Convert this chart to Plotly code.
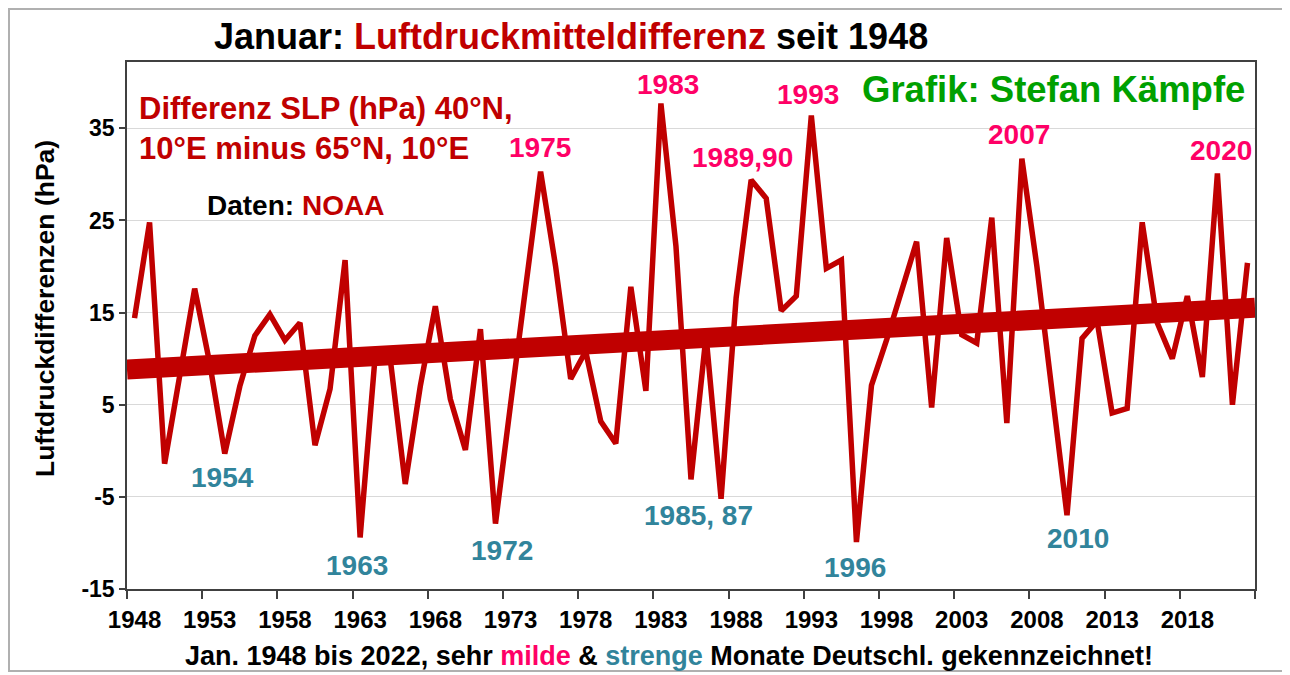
import numpy as np
import plotly.graph_objects as go

# ---- data ----
years = list(range(1948, 2023))
values = [14.4, 24.8, -1.4, 8.0, 17.6, 9.5, -0.3, 7.0, 12.5, 14.8,
          12.0, 13.9, 0.6, 6.7, 20.7, -9.4, 10.3, 10.0, -3.6, 7.0,
          15.7, 5.6, 0.1, 13.2, -7.9, 5.0, 17.5, 30.3, 20.0, 7.8,
          10.8, 3.2, 0.8, 17.8, 6.5, 37.7, 22.2, -3.1, 12.5, -5.2,
          16.6, 29.4, 27.4, 15.2, 16.8, 36.4, 19.8, 20.7, -9.9, 7.1,
          12.0, 17.2, 22.7, 4.7, 23.1, 12.6, 11.7, 25.3, 3.0, 31.7,
          20.0, 6.5, -7.0, 12.2, 14.1, 4.1, 4.6, 24.8, 13.9, 10.0,
          16.8, 8.0, 30.1, 5.0, 20.4]
tick_years = list(range(1948, 2019, 5))
tick_labels = [str(y) for y in tick_years]
y_ticks = [-15, -5, 5, 15, 25, 35]
y_tick_labels = ["-15", "-5", "5", "15", "25", "35"]

mild_labels = ["1975", "1983", "1989,90", "1993", "2007", "2020"]
mild_x = [1974.99, 1983.45, 1988.4, 1992.81, 2006.81, 2020.22]
mild_y = [32.9, 39.8, 31.8, 38.7, 34.3, 32.6]
severe_labels = ["1954", "1963", "1972", "1985, 87", "1996", "2010"]
severe_x = [1953.83, 1962.76, 1972.46, 1985.53, 1995.92, 2010.72]
severe_y = [-2.9, -12.4, -10.8, -7.0, -12.7, -9.5]

RED = "#C00000"
PINK = "#FF0066"
TEAL = "#31849B"
GREEN = "#00A000"
FONT = "Arial, Liberation Sans, sans-serif"

# linear trend computed from the data
coef = np.polyfit(years, values, 1)
trend_x = [years[0] - 0.5, years[-1] + 0.5]
trend_y = [float(np.polyval(coef, v)) for v in trend_x]

fig = go.Figure()
fig.add_trace(go.Scatter(x=trend_x, y=trend_y, mode="lines",
                         line=dict(color=RED, width=20), hoverinfo="skip",
                         showlegend=False))
fig.add_trace(go.Scatter(x=years, y=values, mode="lines",
                         line=dict(color=RED, width=5.5), showlegend=False))

# page body has an 8px margin; the figure is laid out in page pixels
OFF = 8
W, H = 1290 - OFF, 675 - OFF
PL, PR, PT, PB = 127, 1255, 62, 589          # plot box in page pixels
ML, MT = PL - OFF, PT - OFF
MR, MB = W - (PR - OFF), H - (PB - OFF)
PW, PH = W - ML - MR, H - MT - MB


def px(x):
    return (x - OFF - ML) / PW


def py(y):
    return (H - MB - (y - OFF)) / PH


ann = []
for t, x, y in zip(mild_labels, mild_x, mild_y):
    ann.append(dict(x=x, y=y, xref="x", yref="y", text=t, showarrow=False,
                    font=dict(family=FONT, size=28, color=PINK, weight="bold")))
for t, x, y in zip(severe_labels, severe_x, severe_y):
    ann.append(dict(x=x, y=y, xref="x", yref="y", text=t, showarrow=False,
                    font=dict(family=FONT, size=28, color=TEAL, weight="bold")))

ann += [
    dict(x=px(137), y=py(108), xref="paper", yref="paper", xanchor="left",
         yanchor="middle", showarrow=False, text="Differenz SLP (hPa) 40°N,",
         font=dict(family=FONT, size=31, color=RED, weight="bold")),
    dict(x=px(137), y=py(148), xref="paper", yref="paper", xanchor="left",
         yanchor="middle", showarrow=False, text="10°E minus 65°N, 10°E",
         font=dict(family=FONT, size=31, color=RED, weight="bold")),
    dict(x=px(205), y=py(206), xref="paper", yref="paper", xanchor="left",
         yanchor="middle", showarrow=False,
         text="Daten: <span style='color:%s'>NOAA</span>" % RED,
         font=dict(family=FONT, size=28, color="black", weight="bold")),
    dict(x=px(860), y=py(89), xref="paper", yref="paper", xanchor="left",
         yanchor="middle", showarrow=False, text="Grafik: Stefan Kämpfe",
         font=dict(family=FONT, size=36.5, color=GREEN, weight="bold")),
    dict(x=px(571), y=py(36), xref="paper", yref="paper", xanchor="center",
         yanchor="middle", showarrow=False,
         text="Januar: <span style='color:%s'>Luftdruckmitteldifferenz</span> seit 1948" % RED,
         font=dict(family=FONT, size=36, color="black", weight="bold")),
    dict(x=px(669), y=py(656), xref="paper", yref="paper", xanchor="center",
         yanchor="middle", showarrow=False,
         text=("Jan. 1948 bis 2022, sehr <span style='color:%s'>milde</span> &amp; "
               "<span style='color:%s'>strenge</span> Monate Deutschl. gekennzeichnet!") % (PINK, TEAL),
         font=dict(family=FONT, size=27, color="black", weight="bold")),
    dict(x=px(45), y=py(309), xref="paper", yref="paper", xanchor="center",
         yanchor="middle", showarrow=False, textangle=-90,
         text="Luftdruckdifferenzen (hPa)",
         font=dict(family=FONT, size=26.5, color="black", weight="bold")),
]

fig.update_layout(
    width=W, height=H,
    margin=dict(l=ML, r=MR, t=MT, b=MB),
    paper_bgcolor="white", plot_bgcolor="white",
    annotations=ann,
    shapes=[dict(type="rect", xref="paper", yref="paper",
                 x0=px(9), x1=px(1283), y0=py(671), y1=py(9),
                 line=dict(color="#B0B0B0", width=2), layer="below")],
    xaxis=dict(range=[1947.5, 2022.5], tickmode="array", tickvals=tick_years,
               ticktext=tick_labels, ticks="", showgrid=False, zeroline=False,
               showline=True, linecolor="#404040", linewidth=1.5, mirror=True,
               ticklabelstandoff=8,
               tickfont=dict(family=FONT, size=24, color="black", weight="bold"),
               minor=dict(tickmode="linear", tick0=1947.5, dtick=5,
                          ticks="outside", ticklen=8, tickcolor="#404040",
                          tickwidth=1.5, showgrid=False)),
    yaxis=dict(range=[-15, 42.2], tickmode="array", tickvals=y_ticks,
               ticktext=y_tick_labels,
               ticks="outside", ticklen=6, tickcolor="#404040", tickwidth=1.5,
               showgrid=True, gridcolor="#D9D9D9", gridwidth=1, zeroline=False,
               showline=True, linecolor="#404040", linewidth=1.5, mirror=True,
               tickfont=dict(family=FONT, size=23, color="black", weight="bold")),
)

fig.write_html("out.html")
